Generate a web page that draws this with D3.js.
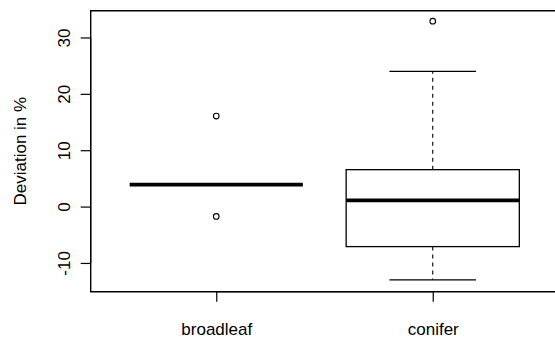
<!DOCTYPE html>
<html>
<head>
<meta charset="utf-8">
<script src="https://cdn.jsdelivr.net/npm/d3@7"></script>
<style>
  html, body { margin: 0; padding: 0; background: #fff; overflow: hidden; }
  svg { display: block; }
  svg text { font-family: "Liberation Sans", Arial, Helvetica, sans-serif; fill: #000; }
</style>
</head>
<body>
<div id="chart"></div>
<script>
// boxplot deviasi per kelompok pohon

const categories = ["broadleaf", "conifer"];
const lowWhisker  = [3.9, -13.0];
const q1Values    = [3.9, -7.1];
const medians     = [3.9, 1.1];
const q3Values    = [3.9, 6.55];
const highWhisker = [3.9, 24.0];
const outliers    = [[16.05, -1.75], [32.9]];
const yTicks      = [-10, 0, 10, 20, 30];
const yLabel      = "Deviation in %";

const W = 555, H = 338;
const plot = { left: 90.7, top: 10.7, right: 558.3, bottom: 291.7 };
const FS = 17;

const svg = d3.select("#chart")
  .append("svg")
  .attr("width", W)
  .attr("height", H);

const x = d3.scaleLinear()
  .domain([0.42, 2.58])
  .range([plot.left, plot.right]);

const y = d3.scaleLinear()
  .domain([-15.1, 34.75])
  .range([plot.bottom, plot.top]);

const boxW = x(1.4) - x(1);   // setengah lebar box (0.4 unit)
const capW = boxW / 2;

const data = categories.map((c, i) => ({
  name: c, pos: i + 1,
  lo: lowWhisker[i], q1: q1Values[i], med: medians[i], q3: q3Values[i], hi: highWhisker[i],
  out: outliers[i]
}));

const g = svg.selectAll(".box")
  .data(data)
  .enter()
  .append("g")
  .attr("class", "box");

// whisker putus-putus
g.append("line")
  .attr("x1", d => x(d.pos)).attr("x2", d => x(d.pos))
  .attr("y1", d => y(d.q3)).attr("y2", d => y(d.hi))
  .attr("stroke", "#000").attr("stroke-width", 1.1)
  .attr("stroke-dasharray", "4,4");

g.append("line")
  .attr("x1", d => x(d.pos)).attr("x2", d => x(d.pos))
  .attr("y1", d => y(d.q1)).attr("y2", d => y(d.lo))
  .attr("stroke", "#000").attr("stroke-width", 1.1)
  .attr("stroke-dasharray", "4,4");

// staple
["hi", "lo"].forEach(k => {
  g.append("line")
    .attr("x1", d => x(d.pos) - capW).attr("x2", d => x(d.pos) + capW)
    .attr("y1", d => y(d[k])).attr("y2", d => y(d[k]))
    .attr("stroke", "#000").attr("stroke-width", 1.2);
});

// box
g.append("rect")
  .attr("x", d => x(d.pos) - boxW)
  .attr("width", boxW * 2)
  .attr("y", d => y(d.q3))
  .attr("height", d => y(d.q1) - y(d.q3))
  .attr("fill", "#fff")
  .attr("stroke", "#000")
  .attr("stroke-width", 1.3);

// median tebal
g.append("line")
  .attr("x1", d => x(d.pos) - boxW).attr("x2", d => x(d.pos) + boxW)
  .attr("y1", d => y(d.med)).attr("y2", d => y(d.med))
  .attr("stroke", "#000").attr("stroke-width", 3.6);

// outlier
g.each(function(d) {
  d3.select(this).selectAll("circle")
    .data(d.out)
    .enter()
    .append("circle")
    .attr("cx", x(d.pos))
    .attr("cy", v => y(v))
    .attr("r", 2.8)
    .attr("fill", "none")
    .attr("stroke", "#000")
    .attr("stroke-width", 1.1);
});

// bingkai plot (sisi kanan berada di luar jendela)
svg.append("path")
  .attr("d", `M${plot.right},${plot.top}H${plot.left}V${plot.bottom}H${plot.right}`)
  .attr("fill", "none")
  .attr("stroke", "#000")
  .attr("stroke-width", 1.4);

// sumbu y
const yAxis = svg.append("g")
  .attr("transform", `translate(${plot.left},0)`)
  .call(d3.axisLeft(y).tickValues(yTicks).tickSize(10).tickSizeOuter(0)
    .tickFormat(d => String(d)));

yAxis.select(".domain")
  .attr("d", `M0,${y(yTicks[0])}V${y(yTicks[yTicks.length - 1])}`)
  .attr("stroke", "#000").attr("stroke-width", 1.2);
yAxis.selectAll(".tick line").attr("stroke", "#000").attr("stroke-width", 1.2);
yAxis.selectAll(".tick text")
  .attr("transform", "rotate(-90)")
  .attr("x", 0)
  .attr("y", -20.5)
  .attr("dy", null)
  .attr("text-anchor", "middle")
  .attr("font-size", FS)
  .attr("font-family", null);

// sumbu x
const xAxis = svg.append("g")
  .attr("transform", `translate(0,${plot.bottom})`)
  .call(d3.axisBottom(x).tickValues([1, 2]).tickSize(10).tickSizeOuter(0)
    .tickFormat((d, i) => categories[i]));

xAxis.select(".domain")
  .attr("d", `M${x(1)},0H${x(2)}`)
  .attr("stroke", "#000").attr("stroke-width", 1.2);
xAxis.selectAll(".tick line").attr("stroke", "#000").attr("stroke-width", 1.2);
xAxis.selectAll(".tick text")
  .attr("y", 43.3)
  .attr("dy", null)
  .attr("font-size", FS)
  .attr("font-family", null);

// label sumbu y
svg.append("text")
  .attr("transform", `translate(26,${(plot.top + plot.bottom) / 2}) rotate(-90)`)
  .attr("text-anchor", "middle")
  .attr("font-size", FS)
  .text(yLabel);
</script>
</body>
</html>
